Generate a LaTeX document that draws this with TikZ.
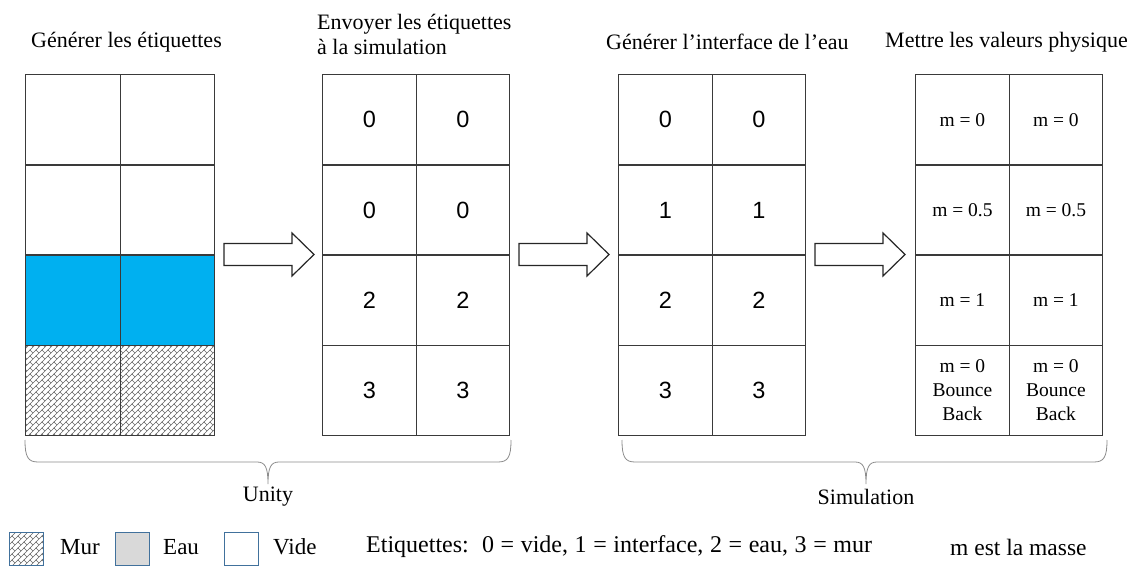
\documentclass[tikz,border=0pt]{standalone}
\usepackage{fontspec}
\setmainfont{Liberation Serif}
\newfontfamily\numfont{Liberation Sans}
\usetikzlibrary{patterns}
\definecolor{gridc}{HTML}{3A3A3A}
\definecolor{waterc}{HTML}{00B0F0}
\definecolor{legc}{HTML}{41719C}
\definecolor{grayfill}{HTML}{D9D9D9}
\definecolor{bracecol}{HTML}{8C8C8C}
\newcommand\widespaces{\spaceskip=6.6pt\relax}
\pgfdeclarepatternformonly{diagbrick}{\pgfpoint{-1pt}{-1pt}}{\pgfpoint{7pt}{7pt}}{\pgfpoint{6pt}{6pt}}{%
  \pgfsetlinewidth{0.6pt}%
  \pgfpathmoveto{\pgfpoint{-0.5pt}{-0.5pt}}\pgfpathlineto{\pgfpoint{6.5pt}{6.5pt}}%
  \pgfpathmoveto{\pgfpoint{3pt}{3pt}}\pgfpathlineto{\pgfpoint{0pt}{6pt}}%
  \pgfusepath{stroke}}
\tikzset{
  cell/.style={draw=gridc, line width=1.3pt, inner sep=0pt, minimum width=93.5pt,
    minimum height=90.25pt, anchor=north west, align=center},
  cellA/.style={cell, minimum width=94.5pt},
  numtxt/.style={font=\numfont\fontsize{23.5}{28}\selectfont},
  mtxt/.style={font=\fontsize{19.5}{24}\selectfont},
  titletxt/.style={font=\fontsize{22}{25}\selectfont, align=left, inner sep=0pt},
  plaintxt/.style={font=\fontsize{22}{24}\selectfont, inner sep=0pt},
  legtxt/.style={font=\fontsize{23}{24}\selectfont, inner sep=0pt},
  etiqtxt/.style={font=\fontsize{24}{24}\selectfont\widespaces, inner sep=0pt},
  blockarrow/.style={draw=black!85, line width=1.2pt, fill=white, line join=miter},
  bracestyle/.style={draw=bracecol, line width=0.8pt},
  brick/.style={preaction={fill=white}, pattern=diagbrick, pattern color=black!60},
  legbox/.style={draw=legc, line width=1pt, minimum width=34pt, minimum height=33pt, inner sep=0pt},
}
\begin{document}
\begin{tikzpicture}[x=1pt,y=-1pt]
\useasboundingbox (0,0) rectangle (1138,572);
% titles
\node[titletxt, anchor=west] (t1) at (31,42) {Générer les étiquettes};
\node[titletxt, anchor=west] (t2) at (317,34.5) {Envoyer les étiquettes\\à la simulation};
\node[titletxt, anchor=west] (t3) at (606,42) {Générer l’interface de l’eau};
\node[titletxt, anchor=west] (t4) at (885,42) {Mettre les valeurs physique};
% grid 1
\foreach \i in {1,2}{
  \node[cellA] (g1r\i a) at (25,{74+(\i-1)*90.25}) {};
  \node[cellA] (g1r\i b) at (119.5,{74+(\i-1)*90.25}) {};
}
\node[cellA, fill=waterc] (g1r3a) at (25,254.5) {};
\node[cellA, fill=waterc] (g1r3b) at (119.5,254.5) {};
\node[cellA, brick] (g1r4a) at (25,344.75) {};
\node[cellA, brick] (g1r4b) at (119.5,344.75) {};
% grid 2
\foreach \i/\v in {1/0,2/0,3/2,4/3}{
  \node[cell, numtxt] (g2r\i a) at (322,{74+(\i-1)*90.25}) {\v};
  \node[cell, numtxt] (g2r\i b) at (415.5,{74+(\i-1)*90.25}) {\v};
}
% grid 3
\foreach \i/\v in {1/0,2/1,3/2,4/3}{
  \node[cell, numtxt] (g3r\i a) at (618,{74+(\i-1)*90.25}) {\v};
  \node[cell, numtxt] (g3r\i b) at (711.5,{74+(\i-1)*90.25}) {\v};
}
% grid 4
\foreach \i/\v in {1/{m = 0},2/{m = 0.5},3/{m = 1},4/{m = 0\\Bounce\\Back}}{
  \node[cell, mtxt] (g4r\i a) at (915,{74+(\i-1)*90.25}) {\v};
  \node[cell, mtxt] (g4r\i b) at (1008.5,{74+(\i-1)*90.25}) {\v};
}
% block arrows
\foreach \n/\x in {a1/224,a2/519,a3/815}{
  \coordinate (\n) at (\x,243.5);
  \draw[blockarrow] (\n) -- ++(68,0) -- ++(0,-10.5) -- ++(22,21.5) -- ++(-22,21.5)
    -- ++(0,-10.5) -- ++(-68,0) -- cycle;
}
% braces
\coordinate (b1l) at (25,440);
\coordinate (b1r) at (511,440);
\coordinate (b1t) at (268,484);
\draw[bracestyle] (b1l) .. controls (25,457) and (28,462) .. (38,462) -- (257,462)
  .. controls (265,462) and (268,467) .. (b1t)
  .. controls (268,467) and (271,462) .. (279,462) -- (498,462)
  .. controls (508,462) and (511,457) .. (b1r);
\coordinate (b2l) at (622,440);
\coordinate (b2r) at (1107,440);
\coordinate (b2t) at (866,484);
\draw[bracestyle] (b2l) .. controls (622,457) and (625,462) .. (635,462) -- (855,462)
  .. controls (863,462) and (866,467) .. (b2t)
  .. controls (866,467) and (869,462) .. (877,462) -- (1094,462)
  .. controls (1104,462) and (1107,457) .. (b2r);
\node[plaintxt] (unity) at (268,497) {Unity};
\node[plaintxt] (sim) at (866,497) {Simulation};
% legend
\node[legbox, brick] (lmur) at (26,548.5) {};
\node[legtxt, anchor=west] (tmur) at (60,547) {Mur};
\node[legbox, fill=grayfill] (leau) at (132,548.5) {};
\node[legtxt, anchor=west] (teau) at (163,547) {Eau};
\node[legbox, fill=white] (lvide) at (241.5,548.5) {};
\node[legtxt, anchor=west] (tvide) at (273,547) {Vide};
\node[etiqtxt, anchor=west] (etiq) at (366,547) {Etiquettes:\ \ 0 = vide, 1 = interface, 2 = eau, 3 = mur};
\node[legtxt, anchor=west, font=\fontsize{23.5}{24}\selectfont] (masse) at (950,547) {m est la masse};
\end{tikzpicture}
\end{document}
